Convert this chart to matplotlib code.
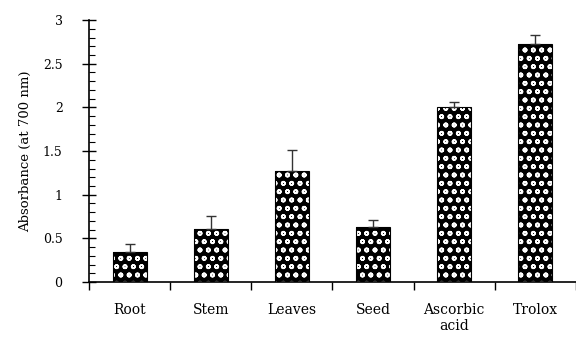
import numpy as np
import matplotlib
matplotlib.use("Agg")
import matplotlib.pyplot as plt
from matplotlib.ticker import MultipleLocator

# reducing power of the extracts vs. standards
samples = ["Root", "Stem", "Leaves", "Seed", "Ascorbic\nacid", "Trolox"]
absorbance = [0.35, 0.61, 1.27, 0.63, 2.00, 2.73]
err = [0.09, 0.15, 0.24, 0.08, 0.06, 0.10]
yticks = [0, 0.5, 1, 1.5, 2, 2.5, 3]
ytick_labels = ['0', '0.5', '1', '1.5', '2', '2.5', '3']

plt.rcParams['font.family'] = ['DejaVu Serif']
plt.rcParams['hatch.linewidth'] = 1.2

fig = plt.figure(figsize=(5.76, 3.37), dpi=100)
ax = fig.add_axes([0.1545, 0.163, 0.8455, 0.7774])

x = np.arange(len(samples))
bw = 0.42
ax.bar(x, absorbance, width=bw, color='black', edgecolor='white',
       hatch='oo', linewidth=0, zorder=2)
ax.bar(x, absorbance, width=bw, fill=False, edgecolor='black',
       linewidth=0.8, zorder=3)
ax.errorbar(x, absorbance, yerr=[np.zeros(len(err)), err], fmt='none',
            ecolor='#333333', elinewidth=1.0, capsize=3.5, capthick=1.0, zorder=4)

ax.set_xlim(-0.5, len(samples) - 0.5)
ax.set_ylim(0, 3)
ax.set_yticks(yticks)
ax.set_yticklabels(ytick_labels)
ax.yaxis.set_minor_locator(MultipleLocator(0.1))
ax.tick_params(axis='y', which='major', direction='inout', length=10,
               width=1.0, labelsize=9, pad=14)
ax.tick_params(axis='y', which='minor', direction='in', length=4, width=0.8)

ax.set_xticks(x)
ax.set_xticklabels(samples)
ax.set_xticks(np.arange(len(samples) + 1) - 0.5, minor=True)
ax.tick_params(axis='x', which='major', length=0, labelsize=10, pad=15)
ax.tick_params(axis='x', which='minor', direction='out', length=6, width=1.0)

for s in ['top', 'right']:
    ax.spines[s].set_visible(False)
ax.spines['left'].set_linewidth(1.2)
ax.spines['bottom'].set_linewidth(1.2)

ax.set_ylabel('Absorbance (at 700 nm)', fontsize=9.5, labelpad=8)

fig.savefig('out.png', dpi=100)
